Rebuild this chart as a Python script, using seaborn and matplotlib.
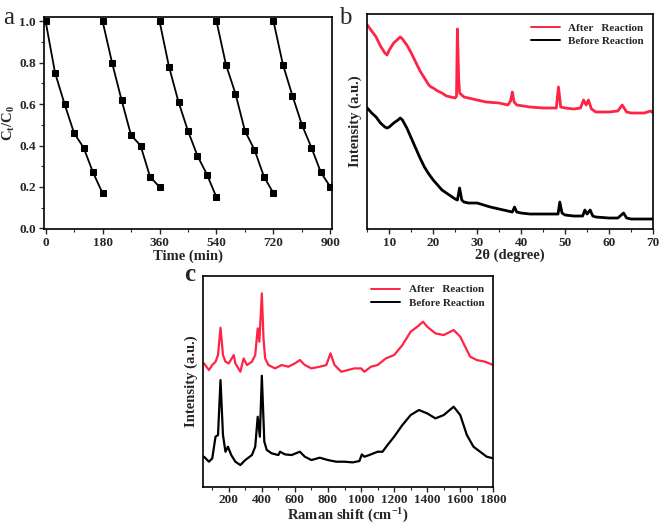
import matplotlib
matplotlib.use("Agg")
import matplotlib.pyplot as plt
import seaborn as sns
from matplotlib.ticker import MultipleLocator, FormatStrFormatter

# ---------------- data ----------------
# Panel a: photocatalytic cycles (time in min, Ct/C0)
cycle_time = [
    [0, 30, 60, 90, 120, 150, 180],
    [180, 210, 240, 270, 300, 330, 360],
    [360, 390, 420, 450, 480, 510, 540],
    [540, 570, 600, 630, 660, 690, 720],
    [720, 750, 780, 810, 840, 870, 900],
]
cycle_ratio = [
    [1.00, 0.75, 0.60, 0.46, 0.39, 0.27, 0.17],
    [1.00, 0.80, 0.62, 0.45, 0.40, 0.25, 0.20],
    [1.00, 0.78, 0.61, 0.47, 0.35, 0.26, 0.15],
    [1.00, 0.79, 0.65, 0.47, 0.38, 0.25, 0.17],
    [1.00, 0.79, 0.64, 0.50, 0.39, 0.27, 0.20],
]
time_ticks = [0, 180, 360, 540, 720, 900]

# Panel b: XRD (2theta in degree, intensity a.u.)
xrd_after_x = [5, 6, 7, 8, 9, 9.5, 10, 11, 12, 12.5, 13, 14, 15, 16, 17, 18, 19, 19.5, 20, 21, 22, 23, 24, 25, 25.3,
               25.5, 25.8, 26, 27, 28, 30, 32, 35, 37, 37.6, 38, 38.4, 39, 42, 45, 47, 48, 48.5, 49, 50, 52, 53.5,
               54.2, 54.8, 55.3, 56, 57, 60, 62, 63, 64, 65, 68, 69.5, 70]
xrd_after_y = [204, 198, 192, 183, 176, 174, 179, 186, 190, 192, 190, 184, 176, 167, 158, 151, 144, 142, 141, 138,
               136, 133, 132, 131, 133, 200, 150, 136, 132, 131, 129, 127, 126, 124, 128, 137, 127, 124, 122, 121,
               121, 121, 142, 122, 121, 120, 121, 129, 124, 129, 120, 117, 117, 118, 124, 117, 116, 116, 118, 116]
xrd_before_x = [5, 6, 7, 8, 9, 9.5, 10, 11, 12, 12.5, 13, 14, 15, 16, 17, 18, 19, 20, 21, 22, 23, 24, 25, 25.5,
                26, 26.5, 27, 28, 30, 33, 36, 38, 38.5, 39, 40, 42, 45, 47, 48.4, 48.8, 49.3, 50, 52, 54, 54.5,
                55, 55.7, 56.3, 57, 60, 62, 63.3, 64, 65, 68, 70]
xrd_before_y = [121, 116, 112, 106, 102, 101, 102, 106, 109, 111, 109, 101, 91, 81, 71, 62, 55, 49, 44, 39, 36,
                33, 30, 29, 41, 29, 27, 26, 26, 22, 19, 17, 22, 17, 16, 15, 15, 15, 15, 27, 16, 14, 13, 13, 19,
                15, 19, 13, 12, 11, 11, 16, 11, 10, 10, 10]
xrd_ticks = [10, 20, 30, 40, 50, 60, 70]

# Panel c: Raman (shift in cm-1, intensity a.u.)
raman_after_x = [50, 80, 100, 120, 135, 150, 165, 180, 200, 230, 240, 270, 290, 310, 340, 360, 375, 385, 400,
                 410, 420, 440, 480, 520, 560, 600, 630, 660, 700, 750, 790, 815, 840, 880, 920, 960, 1000, 1020,
                 1060, 1100, 1150, 1200, 1250, 1300, 1340, 1375, 1400, 1450, 1500, 1560, 1600, 1630, 1660,
                 1700, 1750, 1800]
raman_after_y = [370, 350, 365, 375, 395, 477, 395, 375, 370, 395, 370, 345, 385, 365, 375, 395, 475, 435, 580,
                 445, 385, 365, 355, 365, 360, 370, 380, 365, 355, 360, 365, 400, 365, 345, 350, 355, 355, 345,
                 360, 365, 385, 395, 425, 465, 480, 495, 480, 460, 455, 470, 450, 420, 390, 380, 375, 365]
raman_before_x = [50, 80, 100, 120, 135, 150, 165, 180, 195, 215, 240, 270, 300, 340, 360, 375, 388, 400, 415,
                  430, 460, 500, 510, 540, 580, 630, 660, 700, 750, 800, 850, 900, 950, 990, 1005, 1020, 1050,
                  1100, 1130, 1160, 1200, 1250, 1300, 1350, 1400, 1450, 1500, 1560, 1600, 1640, 1680, 1720,
                  1760, 1800]
raman_before_y = [90, 75, 85, 150, 155, 320, 155, 105, 120, 95, 75, 65, 80, 95, 120, 210, 150, 333, 135, 110,
                  100, 95, 105, 97, 95, 105, 90, 80, 87, 80, 75, 75, 73, 77, 97, 90, 95, 105, 105, 125, 150,
                  185, 215, 230, 220, 205, 215, 240, 215, 155, 120, 105, 90, 85]
raman_ticks = [200, 400, 600, 800, 1000, 1200, 1400, 1600, 1800]

legend_labels = ["After   Reaction", "Before Reaction"]
red = "#ff2445"

# ---------------- style ----------------
sns.set_style("ticks")
plt.rcParams["font.family"] = ["Liberation Serif", "DejaVu Serif"]
plt.rcParams["font.weight"] = "bold"
plt.rcParams["axes.labelweight"] = "bold"
plt.rcParams["mathtext.fontset"] = "custom"
plt.rcParams["mathtext.rm"] = "Liberation Serif:bold"
plt.rcParams["mathtext.bf"] = "Liberation Serif:bold"
plt.rcParams["mathtext.it"] = "Liberation Serif:bold:italic"
plt.rcParams["xtick.direction"] = "out"
plt.rcParams["ytick.direction"] = "out"

fig = plt.figure(figsize=(6.62, 5.26), dpi=100)
ax_a = fig.add_axes([0.066, 0.5637, 0.4355, 0.404])
ax_b = fig.add_axes([0.5548, 0.5646, 0.4316, 0.4088])
ax_c = fig.add_axes([0.3071, 0.0747, 0.4381, 0.4011])

tick_fs = 9.5
label_fs = 10.5

for ax in (ax_a, ax_b, ax_c):
    for s in ax.spines.values():
        s.set_linewidth(1.2)
        s.set_color("black")
    ax.tick_params(axis="both", which="major", length=3.5, width=1, labelsize=tick_fs, pad=2)
    ax.tick_params(axis="both", which="minor", length=2, width=0.8)

# Panel a
for t, r in zip(cycle_time, cycle_ratio):
    sns.lineplot(x=t, y=r, ax=ax_a, color="black", marker="s", markersize=4.5,
                 markeredgecolor="black", linewidth=1.3)
ax_a.set_xlim(-6, 905)
ax_a.set_ylim(-0.005, 1.02)
ax_a.set_xticks(time_ticks)
ax_a.xaxis.set_minor_locator(MultipleLocator(90))
ax_a.yaxis.set_major_locator(MultipleLocator(0.2))
ax_a.yaxis.set_minor_locator(MultipleLocator(0.1))
ax_a.yaxis.set_major_formatter(FormatStrFormatter("%.1f"))
ax_a.set_xlabel("Time (min)", fontsize=label_fs, labelpad=0)
ax_a.set_ylabel(r"C$_\mathrm{t}$/C$_\mathrm{0}$", fontsize=label_fs, labelpad=2)
fig.text(0.005, 0.965, "a", fontsize=18, fontweight="normal", va="center", ha="left")

# Panel b
sns.lineplot(x=xrd_after_x, y=xrd_after_y, ax=ax_b, color=red, linewidth=2.0, label=legend_labels[0])
sns.lineplot(x=xrd_before_x, y=xrd_before_y, ax=ax_b, color="black", linewidth=2.0, label=legend_labels[1])
ax_b.set_xlim(5, 70)
ax_b.set_ylim(0, 215)
ax_b.set_xticks(xrd_ticks)
ax_b.xaxis.set_minor_locator(MultipleLocator(5))
ax_b.set_yticks([])
ax_b.set_xlabel("2θ (degree)", fontsize=label_fs, labelpad=0)
ax_b.set_ylabel("Intensity (a.u.)", fontsize=label_fs, labelpad=4)
leg_b = ax_b.legend(loc="upper right", frameon=False, handlelength=2.6,
                    borderaxespad=0.4, labelspacing=0.35, prop={"weight": "bold", "size": 8})
for h in leg_b.get_lines():
    h.set_linewidth(1.4)
fig.text(0.512, 0.965, "b", fontsize=18, fontweight="normal", va="center", ha="left")

# Panel c
sns.lineplot(x=raman_after_x, y=raman_after_y, ax=ax_c, color=red, linewidth=1.6, label=legend_labels[0])
sns.lineplot(x=raman_before_x, y=raman_before_y, ax=ax_c, color="black", linewidth=1.6, label=legend_labels[1])
ax_c.set_xlim(46, 1800)
ax_c.set_ylim(0, 633)
ax_c.set_xticks(raman_ticks)
ax_c.xaxis.set_minor_locator(MultipleLocator(100))
ax_c.set_yticks([])
ax_c.set_xlabel(r"Raman shift (cm$^{-1}$)", fontsize=label_fs, labelpad=0)
ax_c.set_ylabel("Intensity (a.u.)", fontsize=label_fs, labelpad=4)
leg_c = ax_c.legend(loc="upper right", frameon=False, handlelength=2.6,
                    borderaxespad=0.4, labelspacing=0.35, prop={"weight": "bold", "size": 8})
for h in leg_c.get_lines():
    h.set_linewidth(1.4)
fig.text(0.278, 0.478, "c", fontsize=18, fontweight="bold", va="center", ha="left")

fig.savefig("out.png", dpi=100)
